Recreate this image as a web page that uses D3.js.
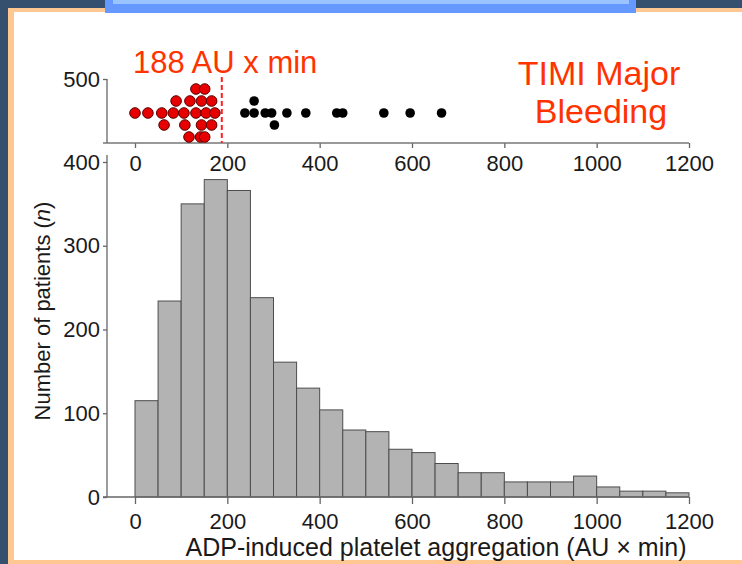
<html>
<head>
</head>
<body style="margin: 0 0 0 0;">
<svg id="chart"></svg>
<script src="https://cdnjs.cloudflare.com/ajax/libs/d3/7.8.5/d3.min.js"></script>
<script type="text/javascript">

// histogram bins (AU x min) and patient counts
var binStarts = [0, 50, 100, 150, 200, 250, 300, 350, 400, 450, 500, 550,
                 600, 650, 700, 750, 800, 850, 900, 950, 1000, 1050, 1100, 1150]
var binWidth = 50
var counts = [115, 234, 350, 379, 366, 238, 161, 130, 104, 80, 78, 57,
              53, 40, 29, 29, 18, 18, 18, 25, 12, 7, 7, 5]

// TIMI major bleeding patients, value + stack row in the dot plot
var bleedBelow = [0, 28, 58, 83, 106, 132, 154, 173, 89, 119, 144, 166, 132, 151,
                  63, 108, 144, 166, 117, 142, 151]
var bleedBelowRow = [0, 0, 0, 0, 0, 0, 0, 0, 1, 1, 1, 1, 2, 2,
                     -1, -1, -1, -1, -2, -2, -2]
var bleedAbove = [238, 258, 282, 296, 329, 370, 437, 450, 539, 596, 664, 258, 302]
var bleedAboveRow = [0, 0, 0, 0, 0, 0, 0, 0, 0, 0, 0, 1, -1]

var cutoff = 188
var xTicks = [0, 200, 400, 600, 800, 1000, 1200]
var yTicks = [0, 100, 200, 300, 400]
var dotTicks = [500]

var font = "Liberation Sans, Arial, Helvetica, sans-serif"
var red = "#ff3300"

var svg = d3.select("#chart")
  .attr("width", 742)
  .attr("height", 564)

// slide frame
svg.append("rect").attr("width", 742).attr("height", 564).attr("fill", "#34506e")
svg.append("rect").attr("x", 8).attr("y", 8).attr("width", 740).attr("height", 560).attr("fill", "#ffc792")
svg.append("rect").attr("x", 14).attr("y", 12).attr("width", 740).attr("height", 548).attr("fill", "#ffffff")
svg.append("rect").attr("x", 105).attr("y", 0).attr("width", 531).attr("height", 13).attr("fill", "#6699ff")
svg.append("rect").attr("x", 113).attr("y", 0).attr("width", 516).attr("height", 4).attr("fill", "#99c4ff")

var x = d3.scaleLinear().domain([0, 1200]).range([135, 689])
var y = d3.scaleLinear().domain([0, 400]).range([497, 162])

// ---- histogram ----
var hist = svg.append("g")

hist.selectAll("rect.bar")
  .data(counts)
  .enter()
  .append("rect")
  .attr("class", "bar")
  .attr("x", function(d, i) { return x(binStarts[i]); })
  .attr("width", function(d, i) { return x(binStarts[i] + binWidth) - x(binStarts[i]); })
  .attr("y", function(d) { return y(d); })
  .attr("height", function(d) { return y(0) - y(d); })
  .attr("fill", "#b3b3b3")
  .attr("stroke", "#4d4d4d")
  .attr("stroke-width", 1)

var styleAxis = function(g) {
  g.attr("font-family", font).attr("font-size", 22)
  g.selectAll("text").attr("fill", "#1a1a1a")
  g.selectAll("line").attr("stroke", "#666").attr("stroke-width", 1.3)
  g.select(".domain").remove()
}

var xAxis = hist.append("g")
  .attr("transform", "translate(0," + y(0) + ")")
  .call(d3.axisBottom(x).tickValues(xTicks).tickFormat(d3.format("d")).tickSize(7).tickPadding(9))
  .call(styleAxis)
xAxis.append("line")
  .attr("x1", 103).attr("x2", x(1200))
  .attr("stroke", "#666").attr("stroke-width", 1.3)

var yAxis = hist.append("g")
  .attr("transform", "translate(107,0)")
  .call(d3.axisLeft(y).tickValues(yTicks).tickSize(4).tickPadding(3))
  .call(styleAxis)
yAxis.append("line")
  .attr("y1", 155).attr("y2", y(0))
  .attr("stroke", "#666").attr("stroke-width", 1.3)

hist.append("text")
  .attr("x", 436)
  .attr("y", 556)
  .attr("text-anchor", "middle")
  .attr("font-family", font)
  .attr("font-size", 25)
  .attr("fill", "#1a1a1a")
  .text("ADP-induced platelet aggregation (AU \u00d7 min)")

var ylab = hist.append("text")
  .attr("transform", "translate(50,311) rotate(-90)")
  .attr("text-anchor", "middle")
  .attr("font-family", font)
  .attr("font-size", 22)
  .attr("fill", "#1a1a1a")
ylab.append("tspan").text("Number of patients (")
ylab.append("tspan").attr("font-style", "italic").text("n")
ylab.append("tspan").text(")")

// ---- dot plot ----
var dotBase = 143
var dotMid = 113
var rowGap = 12
var dots = svg.append("g")

var topAxis = dots.append("g")
  .attr("transform", "translate(0," + dotBase + ")")
  .call(d3.axisBottom(x).tickValues(xTicks).tickFormat(d3.format("d")).tickSize(5).tickPadding(7))
  .call(styleAxis)
topAxis.append("line")
  .attr("x1", 103).attr("x2", x(1200))
  .attr("stroke", "#777").attr("stroke-width", 1.3)

var dotY = d3.scaleLinear().domain([400, 500]).range([dotBase + 16, 79])
var leftAxis = dots.append("g")
  .attr("transform", "translate(107,0)")
  .call(d3.axisLeft(dotY).tickValues(dotTicks).tickSize(4).tickPadding(3))
  .call(styleAxis)
leftAxis.append("line")
  .attr("y1", dotY(500)).attr("y2", dotBase)
  .attr("stroke", "#666").attr("stroke-width", 1.3)

dots.append("line")
  .attr("x1", x(cutoff)).attr("x2", x(cutoff))
  .attr("y1", 77).attr("y2", dotBase)
  .attr("stroke", "#ff2020")
  .attr("stroke-width", 2)
  .attr("stroke-dasharray", "5,3")

dots.selectAll("circle.lo")
  .data(bleedBelow)
  .enter()
  .append("circle")
  .attr("class", "lo")
  .attr("cx", function(d) { return x(d); })
  .attr("cy", function(d, i) { return dotMid - bleedBelowRow[i] * rowGap; })
  .attr("r", 5.3)
  .attr("fill", "#e60000")
  .attr("stroke", "#5a0000")
  .attr("stroke-width", 1)

dots.selectAll("circle.hi")
  .data(bleedAbove)
  .enter()
  .append("circle")
  .attr("class", "hi")
  .attr("cx", function(d) { return x(d); })
  .attr("cy", function(d, i) { return dotMid - bleedAboveRow[i] * rowGap; })
  .attr("r", 4.8)
  .attr("fill", "#000")

dots.append("text")
  .attr("x", 133)
  .attr("y", 73)
  .attr("font-family", font)
  .attr("font-size", 31)
  .attr("fill", red)
  .text("188 AU x min")

dots.append("text")
  .attr("x", 599).attr("y", 85)
  .attr("text-anchor", "middle")
  .attr("font-family", font)
  .attr("font-size", 34)
  .attr("fill", red)
  .text("TIMI Major")
dots.append("text")
  .attr("x", 601).attr("y", 123)
  .attr("text-anchor", "middle")
  .attr("font-family", font)
  .attr("font-size", 34)
  .attr("fill", red)
  .text("Bleeding")

</script>
</body>
</html>
